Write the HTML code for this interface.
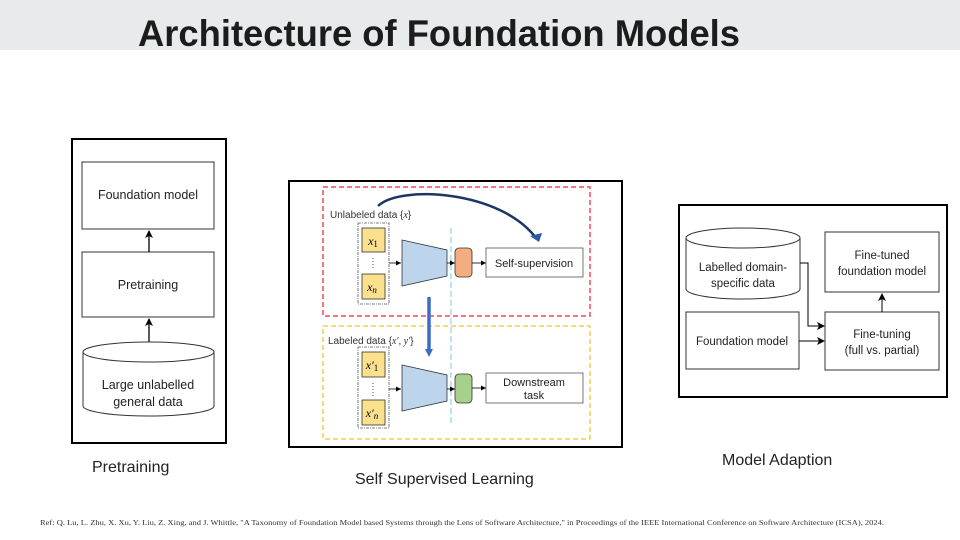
<!DOCTYPE html>
<html><head><meta charset="utf-8"><style>
html,body{margin:0;padding:0;background:#fff;}
body{width:960px;height:540px;overflow:hidden;position:relative;}
svg{position:absolute;left:0;top:0;}
</style></head><body>
<svg width="960" height="540" viewBox="0 0 960 540" xmlns="http://www.w3.org/2000/svg" font-family="Liberation Sans, Arial, sans-serif">
<defs>
<marker id="ah" markerWidth="8" markerHeight="8" refX="7" refY="4" orient="auto" markerUnits="userSpaceOnUse"><path d="M0,0 L8,4 L0,8 L2,4 z" fill="#000"/></marker>
<marker id="as" markerWidth="5" markerHeight="5" refX="5" refY="2.5" orient="auto" markerUnits="userSpaceOnUse"><path d="M0,0 L5,2.5 L0,5 z" fill="#000"/></marker>
</defs>
<rect x="0" y="0" width="960" height="50" fill="#e8ebec"/>
<text x="138" y="46" font-size="37" font-weight="bold" fill="#1c1c1c" textLength="602" lengthAdjust="spacingAndGlyphs">Architecture of Foundation Models</text>

<rect x="72" y="139" width="154" height="304" fill="#fff" stroke="#000" stroke-width="2"/>
<rect x="82" y="162" width="132" height="67" fill="#fff" stroke="#333" stroke-width="1"/>
<text x="148" y="199" font-size="12.5" text-anchor="middle" fill="#222">Foundation model</text>
<rect x="82" y="252" width="132" height="65" fill="#fff" stroke="#333" stroke-width="1"/>
<text x="148" y="289" font-size="12.5" text-anchor="middle" fill="#222">Pretraining</text>
<line x1="149" y1="252" x2="149" y2="231" stroke="#000" stroke-width="1.3" marker-end="url(#ah)"/>
<line x1="149" y1="342" x2="149" y2="319" stroke="#000" stroke-width="1.3" marker-end="url(#ah)"/>
<path d="M83,352 L83,406 A65.5,10 0 0 0 214,406 L214,352" fill="#fff" stroke="#333"/>
<ellipse cx="148.5" cy="352" rx="65.5" ry="10" fill="#fff" stroke="#333"/>
<text x="148" y="389" font-size="12.5" text-anchor="middle" fill="#222">Large unlabelled</text>
<text x="148" y="406" font-size="12.5" text-anchor="middle" fill="#222">general data</text>

<rect x="289" y="181" width="333" height="266" fill="#fff" stroke="#000" stroke-width="2"/>
<rect x="323" y="187" width="267" height="129" fill="none" stroke="#f04a55" stroke-width="1.5" stroke-dasharray="5,3"/>
<rect x="323" y="326" width="267" height="113" fill="none" stroke="#f5cd45" stroke-width="1.5" stroke-dasharray="5,3"/>
<line x1="451" y1="228" x2="451" y2="425" stroke="#7cc8e8" stroke-width="1" stroke-dasharray="6,3"/>
<text x="330" y="218" font-size="10" fill="#333">Unlabeled data {<tspan font-family="Liberation Serif" font-style="italic">x</tspan>}</text>
<text x="328" y="344" font-size="10" fill="#333">Labeled data {<tspan font-family="Liberation Serif" font-style="italic">x′, y′</tspan>}</text>
<rect x="358" y="223" width="31" height="81" fill="none" stroke="#555" stroke-width="0.8" stroke-dasharray="3,1,1,1"/>
<rect x="362" y="228" width="23" height="24" fill="#fbe08e" stroke="#333" stroke-width="0.8"/>
<text x="373" y="245" font-size="12" text-anchor="middle" font-family="Liberation Serif" font-style="italic">x<tspan font-size="9" font-style="normal" dy="2">1</tspan></text>
<line x1="373" y1="258" x2="373" y2="270" stroke="#444" stroke-dasharray="1,2"/>
<rect x="362" y="274" width="23" height="25" fill="#fbe08e" stroke="#333" stroke-width="0.8"/>
<text x="372" y="291" font-size="12" text-anchor="middle" font-family="Liberation Serif" font-style="italic">x<tspan font-size="9" dy="2">n</tspan></text>
<line x1="389" y1="263" x2="401" y2="263" stroke="#000" stroke-width="0.8" marker-end="url(#as)"/>
<polygon points="402,240 447,250 447,276 402,286" fill="#bcd5ec" stroke="#333" stroke-width="0.8"/>
<line x1="447" y1="263" x2="455" y2="263" stroke="#000" stroke-width="0.8" marker-end="url(#as)"/>
<rect x="455" y="248" width="17" height="29" rx="4" fill="#f2ae7e" stroke="#333" stroke-width="0.8"/>
<line x1="472" y1="263" x2="486" y2="263" stroke="#000" stroke-width="0.8" marker-end="url(#as)"/>
<rect x="486" y="248" width="97" height="29" fill="#fff" stroke="#555" stroke-width="0.8"/>
<text x="534" y="267" font-size="11" text-anchor="middle" fill="#222">Self-supervision</text>
<path d="M378,206 C400,185 500,190 536,238" fill="none" stroke="#1d3563" stroke-width="2.5"/>
<polygon points="530,236 542,233 539,242" fill="#2a5aa8"/>
<line x1="429" y1="297" x2="429" y2="350" stroke="#3a6cc8" stroke-width="3.5"/>
<polygon points="425,349 433,349 429,357" fill="#3a6cc8"/>
<rect x="358" y="347" width="31" height="81" fill="none" stroke="#555" stroke-width="0.8" stroke-dasharray="3,1,1,1"/>
<rect x="362" y="352" width="23" height="25" fill="#fbe08e" stroke="#333" stroke-width="0.8"/>
<text x="372" y="369" font-size="12" text-anchor="middle" font-family="Liberation Serif" font-style="italic">x′<tspan font-size="9" font-style="normal" dy="2">1</tspan></text>
<line x1="373" y1="383" x2="373" y2="396" stroke="#444" stroke-dasharray="1,2"/>
<rect x="362" y="400" width="23" height="25" fill="#fbe08e" stroke="#333" stroke-width="0.8"/>
<text x="372" y="417" font-size="12" text-anchor="middle" font-family="Liberation Serif" font-style="italic">x′<tspan font-size="9" dy="2">n</tspan></text>
<line x1="389" y1="389" x2="401" y2="389" stroke="#000" stroke-width="0.8" marker-end="url(#as)"/>
<polygon points="402,365 447,375 447,401 402,411" fill="#bcd5ec" stroke="#333" stroke-width="0.8"/>
<line x1="447" y1="389" x2="455" y2="389" stroke="#000" stroke-width="0.8" marker-end="url(#as)"/>
<rect x="455" y="374" width="17" height="29" rx="4" fill="#a8d08d" stroke="#333" stroke-width="0.8"/>
<line x1="472" y1="388" x2="486" y2="388" stroke="#000" stroke-width="0.8" marker-end="url(#as)"/>
<rect x="486" y="373" width="97" height="30" fill="#fff" stroke="#555" stroke-width="0.8"/>
<text x="534" y="386" font-size="11" text-anchor="middle" fill="#222">Downstream</text>
<text x="534" y="399" font-size="11" text-anchor="middle" fill="#222">task</text>

<rect x="679" y="205" width="268" height="192" fill="#fff" stroke="#000" stroke-width="2"/>
<path d="M686,238 L686,289 A57,10 0 0 0 800,289 L800,238" fill="#fff" stroke="#333"/>
<ellipse cx="743" cy="238" rx="57" ry="10" fill="#fff" stroke="#333"/>
<text x="743" y="271" font-size="11.5" text-anchor="middle" fill="#222">Labelled domain-</text>
<text x="743" y="287" font-size="11.5" text-anchor="middle" fill="#222">specific data</text>
<rect x="686" y="312" width="113" height="57" fill="#fff" stroke="#333"/>
<text x="742" y="345" font-size="11.5" text-anchor="middle" fill="#222">Foundation model</text>
<rect x="825" y="232" width="114" height="60" fill="#fff" stroke="#333"/>
<text x="882" y="259" font-size="11.5" text-anchor="middle" fill="#222">Fine-tuned</text>
<text x="882" y="275" font-size="11.5" text-anchor="middle" fill="#222">foundation model</text>
<rect x="825" y="312" width="114" height="58" fill="#fff" stroke="#333"/>
<text x="882" y="338" font-size="11.5" text-anchor="middle" fill="#222">Fine-tuning</text>
<text x="882" y="354" font-size="11.5" text-anchor="middle" fill="#222">(full vs. partial)</text>
<line x1="882" y1="312" x2="882" y2="294" stroke="#000" stroke-width="1" marker-end="url(#ah)"/>
<polyline points="800,263 808,263 808,326 824,326" fill="none" stroke="#000" stroke-width="1" marker-end="url(#ah)"/>
<line x1="799" y1="341" x2="824" y2="341" stroke="#000" stroke-width="1" marker-end="url(#ah)"/>

<text x="92" y="472" font-size="16" fill="#222">Pretraining</text>
<text x="355" y="484" font-size="16" fill="#222">Self Supervised Learning</text>
<text x="722" y="465" font-size="16" fill="#222">Model Adaption</text>
<text x="40" y="525" font-size="7.3" font-family="Liberation Serif, serif" fill="#333" textLength="844" lengthAdjust="spacingAndGlyphs">Ref: Q. Lu, L. Zhu, X. Xu, Y. Liu, Z. Xing, and J. Whittle, "A Taxonomy of Foundation Model based Systems through the Lens of Software Architecture," in  Proceedings of the IEEE International Conference on Software Architecture  (ICSA), 2024.</text>
</svg>
</body></html>
